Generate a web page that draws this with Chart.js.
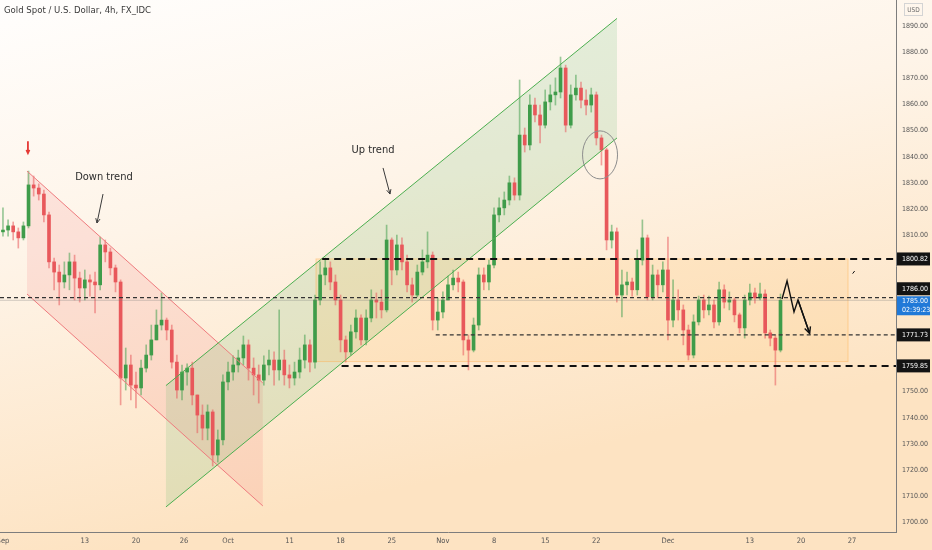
<!DOCTYPE html>
<html>
<head>
<meta charset="utf-8">
<script src="https://cdn.jsdelivr.net/npm/chart.js@4.4.1/dist/chart.umd.min.js"></script>
<style>
  html, body { margin: 0; padding: 0; background: #fff; }
  #wrap { position: relative; width: 932px; height: 550px; }
</style>
</head>
<body>
<div id="wrap"><canvas id="chart"></canvas></div>
<script>
// Gold Spot 4h, one candle per half trading day (x = trading-day index from Sep 1)
const firstOpen = 1811.2;
const closes = [
  1811.9,1813.5,1811.2,1808.9,1813.5,1829.2,1828.0,1825.7,1817.7,1799.7,
  1795.8,1792.0,1794.7,1799.7,1793.5,1789.7,1792.8,1792.0,1790.9,1806.2,
  1803.5,1797.4,1792.0,1755.2,1760.2,1752.5,1751.4,1759.0,1764.0,1769.8,
  1775.5,1777.4,1773.6,1761.3,1750.6,1757.5,1759.0,1748.7,1741.0,1736.0,
  1742.2,1725.7,1731.5,1753.7,1757.5,1760.2,1762.9,1767.9,1759.0,1756.4,
  1754.4,1760.2,1762.1,1758.3,1762.1,1756.4,1755.2,1757.5,1762.1,1767.9,
  1761.3,1785.1,1794.7,1797.4,1792.0,1785.1,1769.8,1765.2,1772.9,1778.2,
  1769.8,1778.2,1785.1,1784.3,1781.3,1808.1,1796.6,1806.2,1799.7,1790.9,
  1787.0,1795.8,1799.7,1802.3,1777.4,1780.5,1785.1,1790.9,1793.5,1792.0,
  1769.8,1765.9,1775.5,1794.7,1792.0,1798.5,1817.7,1820.4,1823.4,1830.0,
  1825.3,1848.3,1844.5,1859.8,1856.0,1852.1,1861.0,1863.7,1864.8,1874.0,
  1852.1,1863.7,1866.3,1861.7,1859.8,1863.7,1847.2,1842.6,1808.1,1811.2,
  1787.0,1790.9,1792.0,1789.0,1800.4,1808.9,1786.3,1794.7,1790.9,1796.6,
  1777.4,1785.1,1781.3,1773.6,1764.0,1776.7,1785.1,1781.3,1783.2,1776.7,
  1789.0,1784.3,1785.1,1779.4,1774.4,1785.1,1787.8,1785.9,1787.4,1772.5,
  1770.5,1765.9,1785.0
];
const highs = [
  1820.4,1815.8,1815.0,1812.7,1815.0,1834.5,1832.6,1829.6,1827.2,1818.8,
  1801.2,1798.5,1799.7,1803.1,1802.3,1795.8,1796.6,1794.7,1795.8,1809.2,
  1808.1,1805.0,1798.5,1792.8,1766.7,1764.0,1757.5,1762.1,1767.9,1775.5,
  1781.3,1787.8,1778.2,1775.5,1764.0,1760.2,1760.6,1761.3,1748.7,1744.9,
  1744.9,1743.0,1735.3,1756.4,1761.3,1763.7,1765.9,1771.3,1769.8,1762.9,
  1760.2,1763.7,1765.9,1765.2,1781.3,1765.9,1760.2,1761.3,1766.7,1771.7,
  1769.8,1787.0,1799.7,1801.2,1799.7,1794.7,1787.0,1771.3,1775.5,1781.3,
  1779.4,1781.3,1789.0,1787.8,1789.0,1813.8,1808.9,1810.0,1808.9,1802.3,
  1793.5,1798.5,1804.3,1811.2,1803.5,1785.9,1788.2,1794.3,1796.6,1795.8,
  1792.8,1771.7,1778.2,1797.4,1797.4,1800.4,1820.4,1824.2,1826.5,1832.6,
  1831.9,1869.4,1851.0,1863.7,1862.5,1859.8,1865.6,1867.5,1870.2,1878.2,
  1875.1,1867.5,1871.3,1868.6,1865.6,1866.3,1864.8,1848.3,1843.3,1813.8,
  1812.7,1796.6,1795.8,1793.5,1804.3,1815.8,1810.0,1798.5,1796.6,1799.7,
  1809.2,1792.8,1789.0,1783.2,1775.5,1779.4,1786.6,1787.0,1786.6,1785.1,
  1792.0,1790.9,1788.2,1785.9,1780.1,1787.0,1791.2,1789.7,1791.6,1789.0,
  1773.6,1771.7,1787.4
];
const lows = [
  1809.6,1809.6,1808.1,1805.0,1808.1,1812.7,1824.9,1823.4,1815.0,1797.4,
  1789.0,1783.2,1789.7,1789.0,1785.1,1784.3,1785.1,1786.6,1780.1,1789.0,
  1799.7,1794.7,1788.2,1744.9,1750.6,1746.8,1743.7,1748.7,1757.5,1762.1,
  1769.8,1773.6,1769.8,1759.0,1747.5,1746.8,1752.5,1744.9,1734.2,1731.5,
  1731.5,1721.5,1723.0,1729.6,1750.6,1754.4,1757.5,1760.2,1754.4,1748.7,
  1745.6,1752.5,1756.4,1752.5,1754.4,1752.5,1751.4,1752.5,1755.2,1759.0,
  1757.5,1759.0,1783.2,1790.9,1789.0,1783.2,1765.2,1761.3,1764.0,1770.5,
  1767.9,1767.9,1776.7,1778.2,1778.2,1780.5,1790.9,1794.7,1796.6,1788.2,
  1784.3,1786.3,1794.7,1797.4,1773.6,1773.6,1778.2,1785.1,1789.0,1788.2,
  1764.0,1758.3,1765.2,1773.6,1789.0,1789.0,1797.4,1815.0,1817.7,1821.5,
  1823.4,1823.4,1841.8,1842.6,1853.3,1845.3,1851.0,1857.9,1859.8,1862.5,
  1849.5,1851.0,1861.7,1858.7,1856.0,1857.1,1844.5,1836.8,1804.3,1805.0,
  1784.3,1778.6,1787.0,1786.6,1787.0,1798.5,1785.1,1785.1,1785.9,1788.2,
  1769.8,1774.8,1777.4,1767.9,1762.1,1762.9,1775.5,1778.2,1779.4,1774.4,
  1775.5,1782.0,1781.3,1776.7,1772.5,1770.5,1783.2,1783.9,1785.1,1770.5,
  1767.5,1752.5,1765.2
];
const barStep = 0.5;

// axes
const tickDays = [0, 8, 13, 17.7, 22, 28, 33, 38, 43, 48, 53, 58, 65, 73, 78, 83];
const tickLabels = ['Sep', '13', '20', '26', 'Oct', '11', '18', '25', 'Nov', '8', '15', '22', 'Dec', '13', '20', '27'];
const priceTicks = [1700, 1710, 1720, 1730, 1740, 1750, 1760, 1770, 1780, 1790, 1800, 1810, 1820, 1830, 1840, 1850, 1860, 1870, 1880, 1890];
const hiddenTicks = [1760, 1770, 1780, 1790, 1800];

// horizontal levels: price, start day (null = from left edge)
const levelPrices = [1800.82, 1786.00, 1771.73, 1759.85];
const levelStarts = [31.2, null, 42.3, 33.1];
const levelHeavy = [true, false, false, true];
const lastPrice = 1785.00;
const countdown = '02:39:23';

const UP = '#3f9c4a', DN = '#e8585b';
const WICK_UP = 'rgba(70,160,80,0.55)', WICK_DN = 'rgba(232,90,92,0.55)';
const FONT = "'Liberation Sans Narrow', 'DejaVu Sans Condensed', Roboto, sans-serif";

const opens = closes.map((c, i) => i === 0 ? firstOpen : closes[i - 1]);
const isUp = closes.map((c, i) => c >= opens[i]);
const wickData = closes.map((c, i) => ({
  x: i * barStep,
  y: [Math.min(lows[i], opens[i], c), Math.max(highs[i], opens[i], c)]
}));
const bodyData = closes.map((c, i) => {
  let a = opens[i], b = c;
  if (Math.abs(a - b) < 0.4) { const m = (a + b) / 2; a = m - 0.2; b = m + 0.2; }
  return { x: i * barStep, y: [a, b] };
});

function arrow(ctx, x1, y1, x2, y2, head) {
  ctx.beginPath();
  ctx.moveTo(x1, y1);
  ctx.lineTo(x2, y2);
  const a = Math.atan2(y2 - y1, x2 - x1);
  ctx.moveTo(x2 - head * Math.cos(a - 0.45), y2 - head * Math.sin(a - 0.45));
  ctx.lineTo(x2, y2);
  ctx.lineTo(x2 - head * Math.cos(a + 0.45), y2 - head * Math.sin(a + 0.45));
  ctx.stroke();
}

const drawings = {
  id: 'drawings',
  beforeDraw(chart) {
    const { ctx, width, height } = chart;
    const g = ctx.createLinearGradient(0, 0, 120, height);
    g.addColorStop(0, '#fffefd');
    g.addColorStop(0.45, '#fef4e8');
    g.addColorStop(1, '#fde3c2');
    ctx.save();
    ctx.fillStyle = g;
    ctx.fillRect(0, 0, width, height);
    ctx.restore();
  },
  beforeDatasetsDraw(chart) {
    const { ctx, chartArea: ca } = chart;
    const X = v => chart.scales.x.getPixelForValue(v);
    const Y = v => chart.scales.y.getPixelForValue(v);
    ctx.save();
    ctx.beginPath(); ctx.rect(ca.left, ca.top, ca.width, ca.height); ctx.clip();
    // down channel
    ctx.fillStyle = 'rgba(242,90,100,0.13)';
    ctx.beginPath();
    ctx.moveTo(X(2.35), Y(1834.5)); ctx.lineTo(X(25.4), Y(1753.3));
    ctx.lineTo(X(25.4), Y(1706.2)); ctx.lineTo(X(2.35), Y(1787.4));
    ctx.closePath(); ctx.fill();
    // up channel
    ctx.fillStyle = 'rgba(90,180,100,0.16)';
    ctx.beginPath();
    ctx.moveTo(X(15.93), Y(1752.3)); ctx.lineTo(X(60.02), Y(1893.0));
    ctx.lineTo(X(60.02), Y(1847.2)); ctx.lineTo(X(15.93), Y(1705.8));
    ctx.closePath(); ctx.fill();
    // range box
    ctx.fillStyle = 'rgba(255,186,90,0.16)';
    ctx.strokeStyle = 'rgba(255,175,80,0.45)';
    ctx.lineWidth = 1;
    const rx = X(30.6), ry = Y(1800.82);
    ctx.fillRect(rx, ry, X(82.6) - rx, Y(1761.5) - ry);
    ctx.strokeRect(rx, ry, X(82.6) - rx, Y(1761.5) - ry);
    ctx.restore();
  },
  afterDatasetsDraw(chart) {
    const { ctx, chartArea: ca } = chart;
    const X = v => chart.scales.x.getPixelForValue(v);
    const Y = v => chart.scales.y.getPixelForValue(v);
    ctx.save();
    ctx.beginPath(); ctx.rect(ca.left, ca.top, ca.width, ca.height); ctx.clip();
    // channel lines
    ctx.lineWidth = 1;
    ctx.strokeStyle = '#ef7b7e';
    ctx.beginPath();
    ctx.moveTo(X(2.35), Y(1834.5)); ctx.lineTo(X(25.4), Y(1753.3));
    ctx.moveTo(X(2.35), Y(1787.4)); ctx.lineTo(X(25.4), Y(1706.2));
    ctx.stroke();
    ctx.strokeStyle = '#4caf50';
    ctx.beginPath();
    ctx.moveTo(X(15.93), Y(1752.3)); ctx.lineTo(X(60.02), Y(1893.0));
    ctx.moveTo(X(15.93), Y(1705.8)); ctx.lineTo(X(60.02), Y(1847.2));
    ctx.stroke();
    // price line of last price
    ctx.strokeStyle = 'rgba(120,120,120,0.35)';
    ctx.beginPath(); ctx.moveTo(ca.left, Y(lastPrice)); ctx.lineTo(ca.right, Y(lastPrice)); ctx.stroke();
    // levels
    levelPrices.forEach((p, i) => {
      ctx.strokeStyle = levelHeavy[i] ? '#111' : '#333';
      ctx.lineWidth = levelHeavy[i] ? 2 : 1.2;
      ctx.setLineDash(levelHeavy[i] ? [7, 5] : [4, 3]);
      const x0 = levelStarts[i] === null ? ca.left : X(levelStarts[i]);
      ctx.beginPath(); ctx.moveTo(x0, Y(p)); ctx.lineTo(ca.right, Y(p)); ctx.stroke();
    });
    ctx.setLineDash([]);
    // labels and arrows
    ctx.fillStyle = '#2b2b2b';
    ctx.font = '11px ' + FONT;
    ctx.textAlign = 'center';
    ctx.textBaseline = 'middle';
    ctx.fillText('Down trend', X(9.87), Y(1832.2));
    ctx.fillText('Up trend', X(36.17), Y(1842.6));
    ctx.strokeStyle = '#3a3a3a';
    ctx.lineWidth = 1;
    arrow(ctx, X(9.78), Y(1825.7), X(9.19), Y(1814.6), 5);
    arrow(ctx, X(37.15), Y(1835.7), X(37.83), Y(1825.7), 5);
    // red marker
    ctx.strokeStyle = '#e53935';
    ctx.lineWidth = 1.8;
    arrow(ctx, X(2.44), Y(1845.9), X(2.44), Y(1841.4), 3.5);
    // break circle
    ctx.strokeStyle = '#8d8d8d';
    ctx.lineWidth = 1;
    ctx.beginPath();
    ctx.ellipse(X(58.36), Y(1840.7), X(60.07) - X(58.36), Y(1831.5) - Y(1840.7), 0, 0, Math.PI * 2);
    ctx.stroke();
    // projection
    const path = [[76.15, 1785.5], [76.64, 1792.4], [77.32, 1780.5], [77.71, 1785.1], [78.85, 1772.3]];
    ctx.strokeStyle = '#111';
    ctx.lineWidth = 1.4;
    ctx.beginPath();
    path.forEach(([d, p], i) => i ? ctx.lineTo(X(d), Y(p)) : ctx.moveTo(X(d), Y(p)));
    ctx.stroke();
    const [d1, p1] = path[3], [d2, p2] = path[4];
    arrow(ctx, X(d1), Y(p1), X(d2), Y(p2), 7);
    ctx.lineWidth = 1;
    ctx.beginPath(); ctx.moveTo(X(83.05), Y(1795.2)); ctx.lineTo(X(83.25), Y(1796.2)); ctx.stroke();
    ctx.restore();
  },
  afterDraw(chart) {
    const { ctx, chartArea: ca, width } = chart;
    const Y = v => chart.scales.y.getPixelForValue(v);
    ctx.save();
    ctx.textAlign = 'left';
    ctx.textBaseline = 'middle';
    const box = (yc, h, bg, lines) => {
      ctx.fillStyle = bg;
      ctx.fillRect(ca.right + 1, yc - h / 2, width - ca.right - 3, h);
      ctx.fillStyle = '#fff';
      ctx.font = '7px ' + FONT;
      lines.forEach((t, i) => ctx.fillText(t, ca.right + 6, yc - (lines.length - 1) * 4.5 + i * 9));
    };
    box(Y(1800.82), 13, '#131313', ['1800.82']);
    box(Y(1771.73), 13, '#131313', ['1771.73']);
    box(Y(1759.85), 13, '#131313', ['1759.85']);
    const blueTop = Y(lastPrice) - 4;
    box(blueTop - 7.5, 13, '#131313', ['1786.00']);
    box(blueTop + 9.5, 19, '#2079d8', ['1785.00', countdown]);
    // currency tag
    ctx.strokeStyle = '#d4d4d4';
    ctx.strokeRect(904.5, 3.5, 18, 12);
    ctx.fillStyle = '#6a6a6a';
    ctx.font = '6.5px ' + FONT;
    ctx.textAlign = 'center';
    ctx.fillText('USD', 913.5, 10);
    // title
    ctx.textAlign = 'left';
    ctx.fillStyle = '#3a3a3a';
    ctx.font = '9.5px ' + FONT;
    ctx.fillText('Gold Spot / U.S. Dollar, 4h, FX_IDC', 4, 11);
    ctx.restore();
  }
};

new Chart(document.getElementById('chart'), {
  type: 'bar',
  data: {
    datasets: [
      { label: 'wick', data: wickData, backgroundColor: isUp.map(u => u ? WICK_UP : WICK_DN),
        barThickness: 1, grouped: false, order: 2 },
      { label: 'body', data: bodyData, backgroundColor: isUp.map(u => u ? UP : DN),
        barThickness: 3, grouped: false, order: 1 }
    ]
  },
  options: {
    responsive: true,
    maintainAspectRatio: false,
    animation: false,
    layout: { padding: 0 },
    plugins: { legend: { display: false }, tooltip: { enabled: false } },
    scales: {
      x: {
        type: 'linear', min: -0.29, max: 87.29, offset: false,
        grid: { display: false, drawTicks: false },
        border: { display: true, color: '#7d7d7d', width: 1 },
        afterBuildTicks: s => { s.ticks = tickDays.map(v => ({ value: v })); },
        afterFit: s => { s.height = 18; s.paddingLeft = 0; s.paddingRight = 0; },
        ticks: { autoSkip: false, maxRotation: 0, padding: 5, color: '#555',
          font: { family: FONT, size: 7.5 }, callback: (v, i) => tickLabels[i] }
      },
      y: {
        position: 'right', min: 1696.2, max: 1900.05,
        grid: { display: false, drawTicks: false },
        border: { display: true, color: '#7d7d7d', width: 1 },
        afterBuildTicks: s => { s.ticks = priceTicks.filter(v => !hiddenTicks.includes(v)).map(v => ({ value: v })); },
        afterFit: s => { s.width = 36; s.paddingTop = 0; s.paddingBottom = 0; },
        ticks: { padding: 6, color: '#555', font: { family: FONT, size: 7 },
          callback: v => Number(v).toFixed(2) }
      }
    }
  },
  plugins: [drawings]
});
</script>
</body>
</html>
